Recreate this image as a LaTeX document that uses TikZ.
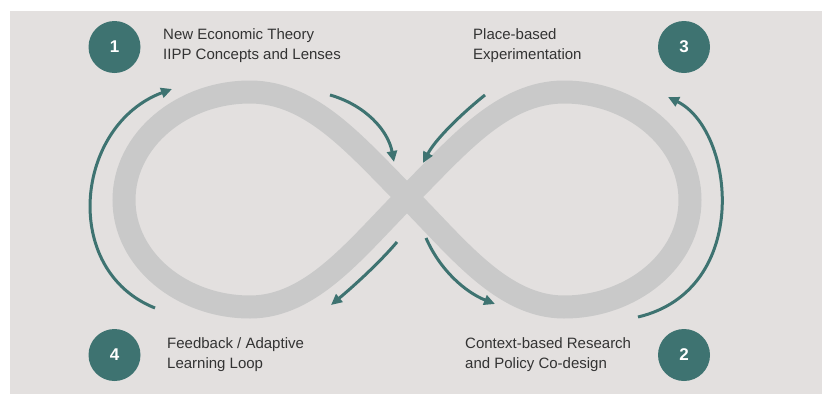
\documentclass[tikz,border=0pt]{standalone}
\usepackage{fontspec}
\setmainfont{Liberation Sans}
\usetikzlibrary{arrows.meta}
\definecolor{bgc}{HTML}{E3E0DF}
\definecolor{loopc}{HTML}{C9C9C9}
\definecolor{teal}{HTML}{3E7371}
\definecolor{txt}{HTML}{333333}
\tikzset{
  num/.style={circle, fill=teal, minimum size=52pt, inner sep=0pt, text=white, font=\fontsize{17}{20}\selectfont\bfseries},
  lbl/.style={anchor=west, align=left, text=txt, inner sep=0pt, font=\fontsize{15}{20}\selectfont},
  flow/.style={draw=teal, line width=3pt, -{Triangle[length=11pt,width=10pt]}},
}
\begin{document}
\begin{tikzpicture}[x=1pt,y=-1pt]
\useasboundingbox (0,0) rectangle (823,394);
\fill[bgc] (9.5,10.5) rectangle (822,394);
% infinity loop
\coordinate (C) at (407,197);
\draw[loopc, line width=23pt]
  (C) .. controls (357,147) and (312,92) .. (250,92)
      .. controls (182,92) and (124,140) .. (124,200)
      .. controls (124,260) and (182,307) .. (250,307)
      .. controls (312,307) and (357,247) .. (C)
      .. controls (457,147) and (502,92) .. (564,92)
      .. controls (632,92) and (690,140) .. (690,200)
      .. controls (690,260) and (632,307) .. (564,307)
      .. controls (502,307) and (457,247) .. (C) -- cycle;
% numbered circles
\node[num] (n1) at (114.5,47) {1};
\node[num] (n3) at (684,47) {3};
\node[num] (n4) at (114.5,355) {4};
\node[num] (n2) at (684,355) {2};
% labels
\node[lbl] (l1) at (163,46) {New Economic Theory\\IIPP Concepts and Lenses};
\node[lbl] (l3) at (473,46) {Place-based\\Experimentation};
\node[lbl] (l4) at (167,355) {Feedback / Adaptive\\Learning Loop};
\node[lbl] (l2) at (465,355) {Context-based Research\\and Policy Co-design};
% arrow endpoints
\coordinate (aLs) at (155,308); \coordinate (aLe) at (172,89);
\coordinate (aRs) at (638,317); \coordinate (aRe) at (668,97);
\coordinate (a1s) at (330,95);  \coordinate (a1e) at (394,162);
\coordinate (a2s) at (485,95);  \coordinate (a2e) at (423,163);
\coordinate (a3s) at (397,242); \coordinate (a3e) at (331,305);
\coordinate (a4s) at (426,238); \coordinate (a4e) at (495,304);
% arrows
\draw[flow] (aLs) .. controls (60,270) and (75,125) .. (aLe);
\draw[flow] (aRs) .. controls (752,290) and (735,130) .. (aRe);
\draw[flow] (a1s) .. controls (365,105) and (388,130) .. (a1e);
\draw[flow] (a2s) .. controls (460,115) and (435,140) .. (a2e);
\draw[flow] (a3s) .. controls (380,262) and (355,285) .. (a3e);
\draw[flow] (a4s) .. controls (440,270) and (465,292) .. (a4e);
\end{tikzpicture}
\end{document}
